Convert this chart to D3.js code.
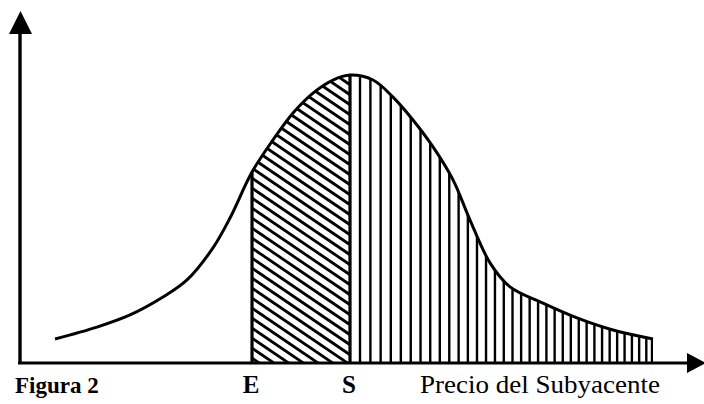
<!DOCTYPE html>
<html>
<head>
<meta charset="utf-8">
<script src="https://cdn.jsdelivr.net/npm/d3@7"></script>
<style>
  body { margin: 0; background: #fff; }
  svg { display: block; }
</style>
</head>
<body>
<div id="chart-container"></div>
<script>
// curve (price units 0-100, density with peak ~ 1)
const price = [5.15, 11.32, 16.18, 21.03, 24.56, 28.38, 30.88, 34.12, 37.21, 40.15, 43.09, 46.03, 48.53,
    51.91, 54.85, 57.79, 60.74, 63.68, 66.18, 69.12, 72.06, 76.91, 81.91, 87.21, 93.09];
const density = [0.083, 0.124, 0.166, 0.228, 0.287, 0.398, 0.501, 0.660, 0.771, 0.864, 0.933, 0.978, 0.995,
    0.978, 0.919, 0.840, 0.747, 0.633, 0.494, 0.346, 0.263, 0.207, 0.156, 0.114, 0.083];

const strikeE = 34.12;   // E
const spotS = 48.53;     // S
const tailEnd = 93.09;

const figLabel = "Figura 2";
const markLabels = [{ text: "E", value: strikeE }, { text: "S", value: spotS }];
const axisLabel = "Precio del Subyacente";

const data = price.map((p, i) => ({ p: p, d: density[i] }));

const width = 704;
const height = 404;

const x = d3.scaleLinear()
    .domain([0, 100])
    .range([20, 700]);

const y = d3.scaleLinear()
    .domain([0, 1.22])
    .range([363, 10]);

const svg = d3.select("#chart-container")
    .append("svg")
    .attr("width", width)
    .attr("height", height);

const defs = svg.append("defs");

const curve = d3.curveCatmullRom.alpha(0.5);

const area = d3.area()
    .x(d => x(d.p))
    .y0(y(0))
    .y1(d => y(d.d))
    .curve(curve);

defs.append("clipPath")
    .attr("id", "under")
    .append("path")
    .datum(data)
    .attr("d", area);

defs.append("clipPath")
    .attr("id", "bandES")
    .append("rect")
    .attr("x", x(strikeE))
    .attr("y", 0)
    .attr("width", x(spotS) - x(strikeE))
    .attr("height", height);

// diagonal hatching between E and S
const hatch = svg.append("g").attr("clip-path", "url(#under)");

const slope = 0.68;
const xe = x(strikeE), xs = x(spotS);
const diag = d3.range(y(1.1) - slope * (xs - xe), y(0) + 10, 10);

hatch.append("g")
    .attr("clip-path", "url(#bandES)")
    .selectAll("line")
    .data(diag)
    .join("line")
    .attr("x1", xe)
    .attr("x2", xs)
    .attr("y1", d => d)
    .attr("y2", d => d + slope * (xs - xe))
    .attr("stroke", "#000")
    .attr("stroke-width", 2.8);

// vertical hatching right of S, spacing tightens to the right
const vx = [];
let cur = xs + 10;
while (cur < x(tailEnd) - 4) {
    vx.push(cur);
    const t = (cur - xs) / (x(tailEnd) - xs);
    cur += 10.5 - 3.5 * t;
}
vx.push(x(tailEnd) - 1);

hatch.selectAll(".vline")
    .data(vx)
    .join("line")
    .attr("class", "vline")
    .attr("x1", d => d)
    .attr("x2", d => d)
    .attr("y1", y(1.1))
    .attr("y2", y(0))
    .attr("stroke", "#000")
    .attr("stroke-width", 2.4);

// the density curve
const line = d3.line()
    .x(d => x(d.p))
    .y(d => y(d.d))
    .curve(curve);

svg.append("path")
    .datum(data)
    .attr("fill", "none")
    .attr("stroke", "#000")
    .attr("stroke-width", 3)
    .attr("d", line);

// E and S verticals
markLabels.forEach(m => {
    const i = price.indexOf(m.value);
    svg.append("line")
        .attr("x1", x(m.value))
        .attr("x2", x(m.value))
        .attr("y1", y(density[i]))
        .attr("y2", y(0))
        .attr("stroke", "#000")
        .attr("stroke-width", 3.2);
});

// axes with arrows
svg.append("line")
    .attr("x1", 20).attr("x2", 20)
    .attr("y1", y(0)).attr("y2", 30)
    .attr("stroke", "#000")
    .attr("stroke-width", 3.4);

svg.append("path")
    .attr("d", "M9,34 L20.5,11 L32,34 Z")
    .attr("fill", "#000");

svg.append("line")
    .attr("x1", 18).attr("x2", 692)
    .attr("y1", y(0)).attr("y2", y(0))
    .attr("stroke", "#000")
    .attr("stroke-width", 3.2);

svg.append("path")
    .attr("d", `M687,${y(0) - 10} L706,${y(0)} L687,${y(0) + 10} Z`)
    .attr("fill", "#000");

// labels
svg.append("text")
    .attr("x", 15)
    .attr("y", 393)
    .style("font-family", "'Liberation Serif', serif")
    .style("font-weight", "bold")
    .style("font-size", "23px")
    .text(figLabel);

svg.selectAll(".mark")
    .data(markLabels)
    .join("text")
    .attr("class", "mark")
    .attr("x", d => x(d.value) - 1)
    .attr("y", 393)
    .attr("text-anchor", "middle")
    .style("font-family", "'Liberation Serif', serif")
    .style("font-weight", "bold")
    .style("font-size", "25px")
    .text(d => d.text);

svg.append("text")
    .attr("x", 420)
    .attr("y", 393)
    .attr("textLength", 240)
    .attr("lengthAdjust", "spacingAndGlyphs")
    .style("font-family", "'Liberation Serif', serif")
    .style("font-size", "25px")
    .text(axisLabel);
</script>
</body>
</html>
